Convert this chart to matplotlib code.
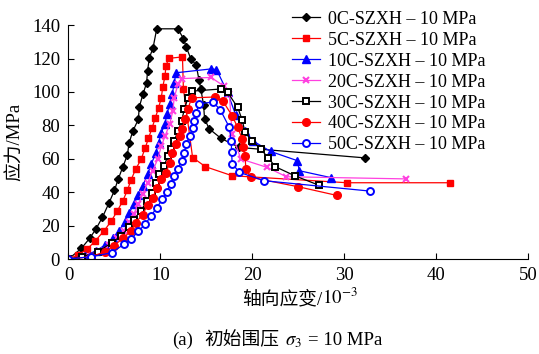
import matplotlib
matplotlib.use("Agg")
import matplotlib.pyplot as plt

plt.rcParams['font.family'] = ['Liberation Serif', 'Noto Sans CJK SC']
plt.rcParams['mathtext.fontset'] = 'stix'
plt.rcParams['font.size'] = 13.5

# axial strain (1e-3) / stress (MPa)
x0 = [0, 1.4, 2.3, 3.0, 3.7, 4.4, 5.0, 5.4, 5.9, 6.4, 6.6, 7.0, 7.6, 7.7, 8.1, 8.5, 8.6, 8.8, 9.2,
      9.6, 11.9, 12.5, 12.8, 13.3, 13.9, 14.2, 14.4, 14.7, 14.8, 15.3, 16.6, 18.6, 32.2]
y0 = [0, 6.4, 12.4, 18.1, 25.1, 33.5, 41.1, 47.7, 55, 62.2, 69.6, 76.6, 83.6, 91, 98.6, 105.5, 112.5, 120.5, 126.4,
      137.8, 137.8, 132, 127, 120, 116, 107, 101.8, 92, 84, 78, 72.2, 66.8, 60.6]

x1 = [0, 1.0, 2.0, 2.9, 3.85, 4.65, 5.3, 5.9, 6.4, 6.8, 7.3, 7.9, 8.35, 8.7, 9.1, 9.45, 9.8, 10.1,
      10.25, 10.5, 10.6, 10.9, 12.4, 12.5, 13.5, 14.9, 17.8, 30.3, 41.5]
y1 = [0, 2.5, 5.8, 10.8, 16.8, 22.7, 28.7, 34.7, 41.1, 47.3, 53.7, 59.7, 66.6, 72.2, 78.6, 84.6, 90.5, 96.5,
      102.9, 109.5, 115.5, 120.1, 121, 102, 60.8, 55.3, 49.9, 45.7, 45.7]

x2 = [0, 1.8, 3.0, 4.0, 4.8, 5.5, 6.1, 6.6, 7.1, 7.6, 8.06, 8.6, 9.0, 9.5, 9.8, 10.1, 10.5, 10.7, 11.0,
      11.3, 11.5, 11.7, 15.5, 16.1, 17.3, 18.2, 19.2, 20.1, 22.0, 24.9, 25.1, 28.6]
y2 = [0, 2, 5, 8.5, 12.5, 17, 22, 27.5, 33, 38.3, 43.7, 50.7, 56.7, 63.6, 69.6, 75.6, 81, 86.6, 92.6,
      99, 105.5, 111.5, 113.8, 113.4, 99.8, 86, 76.6, 70.6, 64.4, 58.9, 52.9, 48.7]

x3 = [0, 2.0, 3.3, 4.4, 5.3, 6.0, 6.6, 7.1, 7.6, 8.06, 8.6, 9.15, 9.7, 10.1, 10.5, 11.0, 11.35, 11.5,
      11.9, 12.3, 15.5, 16.9, 17.5, 17.8, 18.75, 21.6, 23.7, 36.7]
y3 = [0, 2, 5, 8.5, 12.5, 17, 22, 27, 33, 38.7, 45.5, 52.7, 59.7, 67.6, 73.6, 80.6, 88.6, 96.5,
      104.5, 108, 108.7, 103.6, 98.8, 74.8, 59.9, 54.9, 49.3, 48]

x4 = [0, 1.5, 3.2, 4.7, 5.7, 6.6, 7.1, 7.9, 8.5, 9.1, 9.5, 9.9, 10.4, 10.8, 11.2, 11.5, 11.9, 12.3,
      12.6, 13.0, 13.4, 16.6, 17.3, 18.4, 18.9, 19.2, 20.0, 20.9, 21.7, 22.5, 24.6, 27.2]
y4 = [0, 1.5, 4.4, 9.8, 13.8, 19.1, 23.7, 29, 34.7, 39.7, 45.7, 50.7, 55.7, 61.6, 65.6, 70.6, 76.6, 82.6,
      89.6, 96.5, 100.5, 101.8, 99.8, 90.8, 83.2, 75.8, 70.8, 65.9, 60.8, 55.3, 49.9, 44.3]

x5 = [0, 2.5, 4.0, 4.9, 5.9, 6.8, 7.3, 8.06, 8.6, 9.15, 9.6, 10.1, 10.6, 11.0, 11.3, 11.7, 12.1, 12.3,
      12.7, 13.0, 13.4, 15.9, 16.8, 17.8, 18.4, 18.9, 19.0, 19.2, 19.3, 19.85, 25.0, 29.2]
y5 = [0, 1.5, 4.5, 7.8, 12.4, 16.8, 21.7, 26.7, 32.3, 36.7, 42.3, 47.7, 51.6, 57.6, 63.6, 68.6, 73.6, 77.6,
      83.6, 90, 96.5, 97, 94.5, 85.8, 78.8, 71.9, 66.8, 61.6, 53.9, 48.9, 43.3, 38.1]

x6 = [0, 2.5, 4.7, 6.0, 6.8, 7.6, 8.35, 9.0, 9.6, 10.2, 10.7, 11.1, 11.5, 11.9, 12.3, 12.6, 12.8, 13.2,
      13.5, 13.7, 13.9, 14.2, 15.7, 16.5, 17.5, 17.7, 17.75, 17.8, 18.6, 21.3, 32.8]
y6 = [0, 1.5, 3.8, 8.8, 11.8, 16.8, 20.8, 26.1, 30.7, 35.7, 40.3, 44.7, 49.7, 53.7, 59, 63.6, 68.6, 73.6,
      78.2, 82.6, 87.6, 92.9, 94, 89.5, 78.8, 70.8, 63.8, 57.2, 51.9, 46.9, 40.7]

labels = ["0C-SZXH – 10 MPa", "5C-SZXH – 10 MPa", "10C-SZXH – 10 MPa", "20C-SZXH – 10 MPa",
          "30C-SZXH – 10 MPa", "40C-SZXH – 10 MPa", "50C-SZXH – 10 MPa"]

fig = plt.figure(figsize=(5.39, 3.54), dpi=100)
ax = fig.add_axes([0.127, 0.268, 0.853, 0.661])

ax.plot(x0, y0, color='black', lw=0.9, marker='D', ms=4.2, label=labels[0])
ax.plot(x1, y1, color='#ff0000', lw=0.9, marker='s', ms=5, label=labels[1])
ax.plot(x2, y2, color='#0000ff', lw=0.9, marker='^', ms=5.5, label=labels[2])
ax.plot(x3, y3, color='#ff40e0', lw=0.9, marker='x', ms=5, mew=1.5, label=labels[3])
ax.plot(x4, y4, color='black', lw=0.9, marker='s', ms=5, mfc='white', mew=1.4, label=labels[4])
ax.plot(x5, y5, color='#ff0000', lw=0.9, marker='o', ms=5.5, label=labels[5])
ax.plot(x6, y6, color='#0000ff', lw=0.9, marker='o', ms=5, mfc='white', mew=1.4, label=labels[6])

ax.set_xlim(0, 50)
ax.set_ylim(0, 140)
ax.set_xticks([0, 10, 20, 30, 40, 50])
ax.set_yticks(range(0, 141, 20))
ax.tick_params(direction='in', length=4, width=0.8, pad=6)
ax.spines['top'].set_visible(False)
ax.spines['right'].set_visible(False)
ax.set_ylabel("应力/MPa", labelpad=6)

leg = ax.legend(loc='upper left', bbox_to_anchor=(0.541, 0.97), bbox_transform=fig.transFigure,
                frameon=False, borderpad=0, borderaxespad=0, numpoints=1, handlelength=1.55,
                handletextpad=0.45, labelspacing=0.22, fontsize=13)


def put_run(yc, parts, xc=None):
    # place text pieces side by side, centred at xc (figure fraction)
    fig.canvas.draw()
    r = fig.canvas.get_renderer()
    W = fig.bbox.width
    texts, widths = [], []
    for s, gap in parts:
        t = fig.text(0, yc, s, va='baseline', ha='left')
        texts.append(t)
        widths.append(t.get_window_extent(r).width + gap)
    x = xc * W - sum(widths) / 2
    for t, w in zip(texts, widths):
        t.set_x(x / W)
        x += w


put_run(0.14, [("轴向应变/", 0), ("$10^{-3}$", 0)], xc=0.556)
put_run(0.025, [("(a)", 11), ("初始围压", 6), (r"$\sigma_3$", 6), ("= 10 MPa", 0)], xc=0.515)

fig.savefig("out.png", dpi=100)
